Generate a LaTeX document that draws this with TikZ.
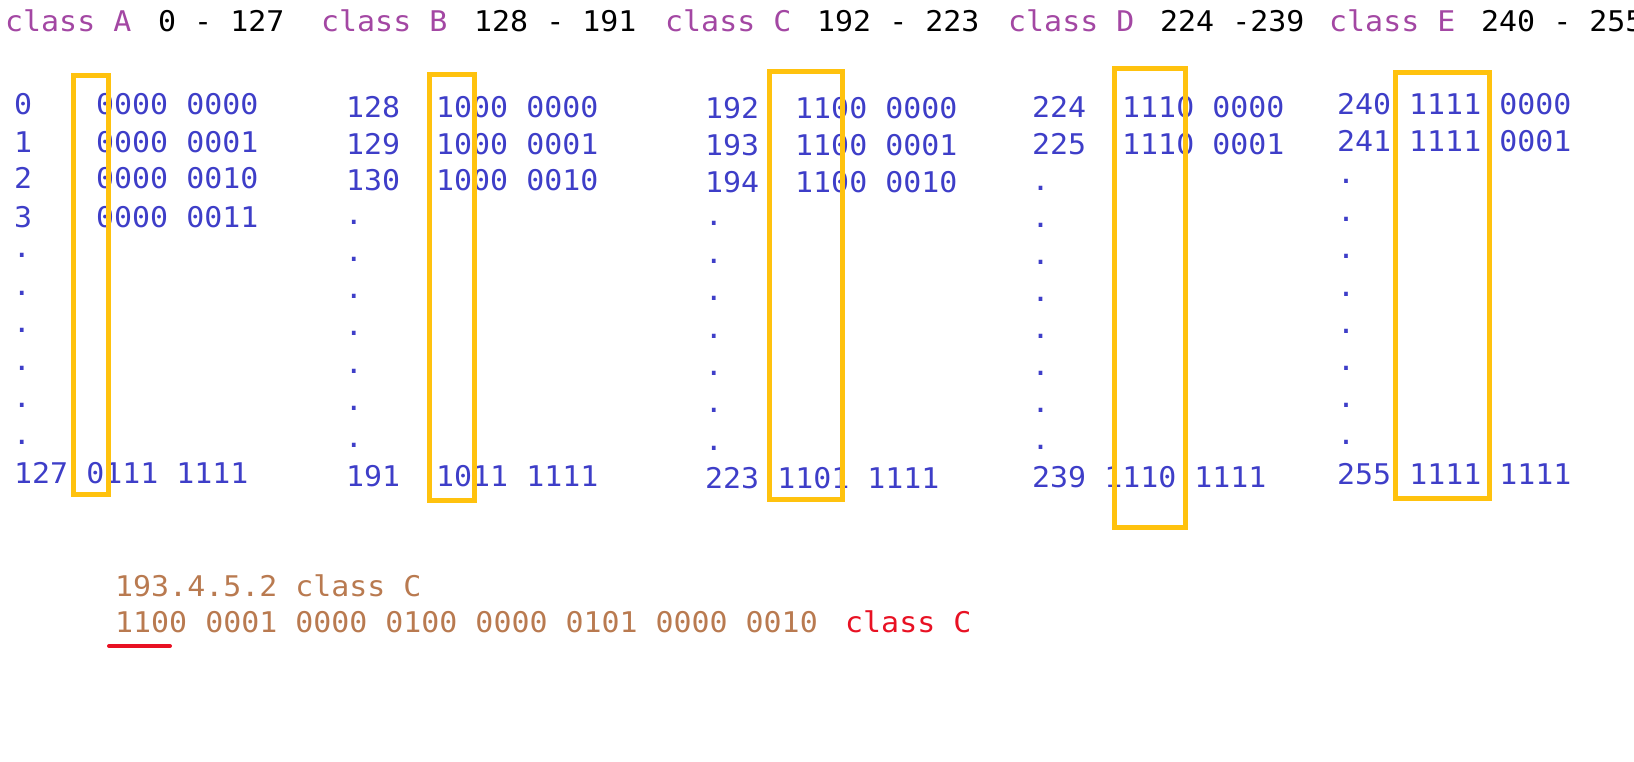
\documentclass[tikz,border=0pt]{standalone}
\usepackage{fontspec}
\newfontfamily\mono{DejaVu Sans Mono}[FakeStretch=1.05]
\definecolor{numblue}{RGB}{62,62,200}
\definecolor{clspurple}{RGB}{163,71,163}
\definecolor{ipbrown}{RGB}{185,122,80}
\definecolor{markred}{RGB}{232,17,35}
\definecolor{boxyellow}{RGB}{255,194,14}
\tikzset{
  txt/.style={inner sep=0pt, anchor=west, text height=20.8pt, text depth=0pt,
    font=\mono\fontsize{28.5}{34}\selectfont},
  num/.style={txt, text=numblue},
  cls/.style={txt, text=clspurple},
  rng/.style={txt, text=black},
  ip/.style={txt, text=ipbrown},
  redtxt/.style={txt, text=markred},
  dotnode/.style={inner sep=0pt, anchor=base, text=numblue,
    font=\mono\fontsize{28.5}{34}\selectfont},
  hbox/.style={draw=boxyellow, line width=5pt},
  uline/.style={draw=markred, line width=4pt, line cap=round}
}
\begin{document}
\begin{tikzpicture}[x=1pt, y=-1pt]
\useasboundingbox (0,0) rectangle (1634,762);
% header
\node[cls] (hA) at (5,21) {class A};
\node[rng] (rA) at (158,21) {0 - 127};
\node[cls] (hB) at (321,21) {class B};
\node[rng] (rB) at (474,21) {128 - 191};
\node[cls] (hC) at (665,21) {class C};
\node[rng] (rC) at (817,21) {192 - 223};
\node[cls] (hD) at (1008,21) {class D};
\node[rng] (rD) at (1160,21) {224 -239};
\node[cls] (hE) at (1329,21) {class E};
\node[rng] (rE) at (1481,21) {240 - 255};
% column A
\node[num] (a0) at (14,104) {0};
\node[num] (a1) at (14,142) {1};
\node[num] (a2) at (14,178) {2};
\node[num] (a3) at (14,217) {3};
\node[num] (ab0) at (96,104) {0000 0000};
\node[num] (ab1) at (96,142) {0000 0001};
\node[num] (ab2) at (96,178) {0000 0010};
\node[num] (ab3) at (96,217) {0000 0011};
\foreach \y [count=\i] in {255,293,330,368,405,442}
  \node[dotnode] (ad\i) at (22,\y+2.5) {.};
\node[num] (a127) at (14,473) {127 0111 1111};
% column B
\node[num] (b0) at (346,107) {128};
\node[num] (b1) at (346,144) {129};
\node[num] (b2) at (346,180) {130};
\node[num] (bb0) at (436,107) {1000 0000};
\node[num] (bb1) at (436,144) {1000 0001};
\node[num] (bb2) at (436,180) {1000 0010};
\foreach \y [count=\i] in {222,259,296,333,371,408,445}
  \node[dotnode] (bd\i) at (354,\y+2.5) {.};
\node[num] (b191) at (346,476) {191};
\node[num] (bb191) at (436,476) {1011 1111};
% column C
\node[num] (c0) at (705,108) {192};
\node[num] (c1) at (705,145) {193};
\node[num] (c2) at (705,182) {194};
\node[num] (cb0) at (795,108) {1100 0000};
\node[num] (cb1) at (795,145) {1100 0001};
\node[num] (cb2) at (795,182) {1100 0010};
\foreach \y [count=\i] in {223,261,298,336,373,410,448}
  \node[dotnode] (cd\i) at (714,\y+2.5) {.};
\node[num] (c223) at (705,478) {223 1101 1111};
% column D
\node[num] (d0) at (1032,107) {224};
\node[num] (d1) at (1032,144) {225};
\node[num] (db0) at (1122,107) {1110 0000};
\node[num] (db1) at (1122,144) {1110 0001};
\foreach \y [count=\i] in {188,225,262,299,336,373,410,447}
  \node[dotnode] (dd\i) at (1040.7,\y+2.5) {.};
\node[num] (d239) at (1032,477) {239 1110 1111};
% column E
\node[num] (e0) at (1337,104) {240};
\node[num] (e1) at (1337,141) {241};
\node[num] (eb0) at (1409,104) {1111 0000};
\node[num] (eb1) at (1409,141) {1111 0001};
\foreach \y [count=\i] in {181,219,256,294,331,368,405,442}
  \node[dotnode] (ed\i) at (1346,\y+2.5) {.};
\node[num] (e255) at (1337,474) {255 1111 1111};
% highlight boxes
\draw[hbox] (73.5,75.8) rectangle (108.3,494);
\draw[hbox] (429.8,74.8) rectangle (474.2,500.8);
\draw[hbox] (769.8,71.8) rectangle (842.5,499.8);
\draw[hbox] (1114.8,68.5) rectangle (1185.2,527.5);
\draw[hbox] (1395.8,72.5) rectangle (1489.2,498.5);
% example
\node[ip] (ipd) at (115,586) {193.4.5.2 class C};
\node[ip] (ipb) at (115,622) {1100 0001 0000 0100 0000 0101 0000 0010};
\node[redtxt] (ipc) at (845,622) {class C};
\coordinate (u1) at (109,646);
\coordinate (u2) at (170,646);
\draw[uline] (u1) -- (u2);
\end{tikzpicture}
\end{document}
